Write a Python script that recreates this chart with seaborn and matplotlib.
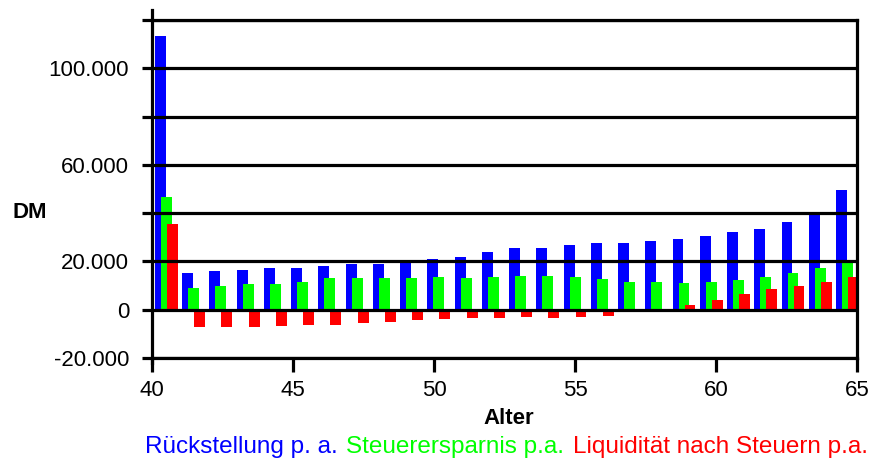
import matplotlib
matplotlib.use("Agg")
import matplotlib.pyplot as plt
import seaborn as sns
import pandas as pd
import numpy as np
from matplotlib.offsetbox import TextArea, HPacker, AnchoredOffsetbox

# ---- data (DM per year of age) ----
ages = list(range(40, 66))
rueckstellung = [113500, 15200, 16000, 16400, 17200, 17200, 18100, 18900, 18900, 19700,
                 20900, 21800, 23800, 25500, 25500, 26700, 27600, 27600, 28400, 29200,
                 30500, 32100, 33300, 36200, 40000, 49500]
steuerersparnis = [46600, 9000, 9800, 10600, 10600, 11400, 13100, 13100, 13100, 13100,
                   13500, 13100, 13500, 13900, 13900, 13500, 12700, 11400, 11400, 11000,
                   11400, 12300, 13500, 15200, 17200, 20100]
liquiditaet = [35400, -7000, -7000, -7000, -6600, -6200, -6200, -5400, -5000, -4100,
               -3700, -3300, -3300, -2900, -3300, -2900, -2500, -300, -1000, 2100,
               4000, 6500, 8600, 9800, 11400, 13500]
series_names = ["Rückstellung p. a.", "Steuerersparnis p.a.", "Liquidität nach Steuern p.a."]
series_colors = ["#0000FF", "#00FF00", "#FF0000"]
x_tick_ages = [40, 45, 50, 55, 60, 65]
y_ticks = [-20000, 0, 20000, 40000, 60000, 80000, 100000, 120000]
y_tick_labels = ["-20.000", "0", "20.000", "", "60.000", "", "100.000", ""]

sns.set_theme(style="white")
plt.rcParams["font.family"] = ["Liberation Sans", "DejaVu Sans"]
plt.rcParams["text.color"] = "black"
plt.rcParams["axes.labelcolor"] = "black"
plt.rcParams["xtick.color"] = "black"
plt.rcParams["ytick.color"] = "black"

fig = plt.figure(figsize=(8.73, 4.65), dpi=100)
ax = fig.add_axes([152 / 873, 1 - 358 / 465, 705 / 873, 338 / 465])

idx = np.arange(len(ages))
offsets = [-0.2, 0.02, 0.24]
for vals, off, col in zip([rueckstellung, steuerersparnis, liquiditaet], offsets, series_colors):
    df = pd.DataFrame({"x": idx + off, "y": vals})
    sns.barplot(data=df, x="x", y="y", native_scale=True, width=0.4, color=col,
                saturation=1, errorbar=None, ax=ax, linewidth=0)

x0, x1 = -0.51, 25.37
ax.set_xlim(x0, x1)
ax.set_ylim(-20000, 120000)
ax.set_xticks([x0 + (a - 40) * (x1 - x0) / 25 for a in x_tick_ages])
ax.set_xticklabels([str(a) for a in x_tick_ages])
ax.set_yticks(y_ticks)
ax.set_yticklabels(y_tick_labels)

ax.set_axisbelow(False)
ax.grid(False)
ax.yaxis.grid(True, color="black", linewidth=2.3)
for s in ["left", "right", "top", "bottom"]:
    ax.spines[s].set_visible(True)
    ax.spines[s].set_color("black")
    ax.spines[s].set_linewidth(2.3)
    ax.spines[s].set_zorder(3)
ax.spines["left"].set_bounds(-22000, 124000)

ax.tick_params(axis="y", direction="out", length=7.5, width=2.3, color="black",
               labelcolor="black", labelsize=16, pad=9, left=True)
ax.tick_params(axis="x", direction="out", length=10, width=2.3, color="black",
               labelcolor="black", labelsize=16, pad=6, bottom=True)

ax.set_xlabel("Alter", fontsize=16, fontweight="bold", color="black")
ax.xaxis.set_label_coords((509 - 152) / 705, -(418 - 358) / 338)
ax.xaxis.label.set_va("center")
ax.set_ylabel("DM", fontsize=16, fontweight="bold", rotation=0, ha="center", va="center",
              color="black")
ax.yaxis.set_label_coords((30 - 152) / 705, 1 - (212 - 20) / 338)

areas = [TextArea(n, textprops=dict(color=c, fontsize=17.5)) for n, c in zip(series_names, series_colors)]
box = HPacker(children=areas, align="center", pad=0, sep=6)
anch = AnchoredOffsetbox(loc="center", child=box, pad=0, borderpad=0, frameon=False,
                         bbox_to_anchor=(506.5 / 873, 1 - 447 / 465),
                         bbox_transform=fig.transFigure)
fig.add_artist(anch)

fig.savefig("out.png", dpi=100)
